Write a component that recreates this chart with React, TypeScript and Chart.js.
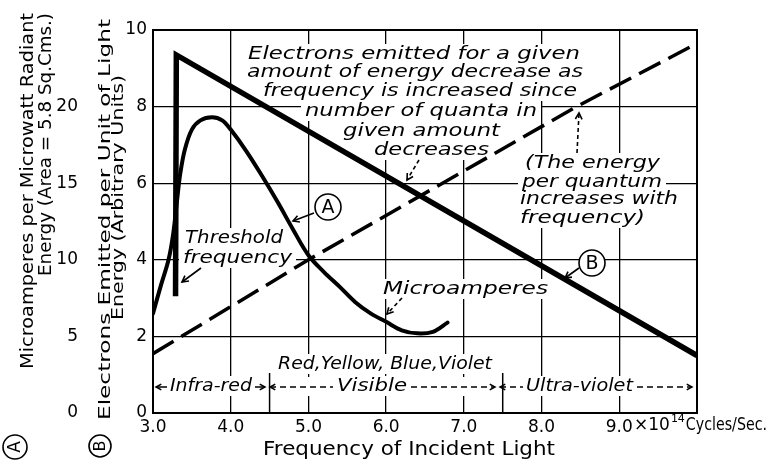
import React, { useEffect, useRef } from 'react';
import { Chart, registerables } from 'chart.js';

Chart.register(...registerables);

// ---- data ----
// Curve A: microamperes per microwatt vs frequency (10^14 c/s)
const freqA = [3.0, 3.1, 3.2, 3.26, 3.31, 3.35, 3.41, 3.5, 3.61, 3.76, 3.89, 4.0, 4.2, 4.4, 4.6, 4.8, 5.0, 5.2, 5.4, 5.6, 5.8, 6.0, 6.2, 6.4, 6.6, 6.79];
const microamperesA = [6.5, 8.3, 10.0, 11.7, 13.9, 15.6, 17.2, 18.5, 19.1, 19.3, 19.1, 18.5, 17.1, 15.5, 13.8, 12.0, 10.3, 9.2, 8.25, 7.25, 6.5, 5.95, 5.4, 5.2, 5.3, 5.9];
// Curve B: electrons emitted per unit of light energy
const freqB = [3.29, 3.3, 10.0];
const electronsB = [3.05, 9.35, 1.5];
// Energy per quantum (dashed)
const freqQuantum = [3.0, 5.0, 8.45, 10.0];
const energyQuantum = [1.55, 4.0, 8.0, 9.65];
// tick labels
const xTickLabels = ['3.0', '4.0', '5.0', '6.0', '7.0', '8.0', '9.0', ''];
const yBTickLabels = ['0', '2', '4', '6', '8', '10'];
const yATickLabels = ['0', '5', '10', '15', '20', ''];
// spectrum band boundaries
const bandEdges = [4.5, 7.5];

const FONT = '"DejaVu Sans", sans-serif';
const ITAL = (s: number) => `italic ${s}px ${FONT}`;
const UP = (s: number) => `${s}px ${FONT}`;

type TL = { t: string; x0: number; x1: number; y: number };

const italicLines: TL[] = [
  { t: 'Electrons emitted for a given', x0: 248, x1: 580, y: 54 },
  { t: 'amount of energy decrease as', x0: 247, x1: 583, y: 72 },
  { t: 'frequency is increased since', x0: 263, x1: 577, y: 91 },
  { t: 'number of quanta in', x0: 305, x1: 537, y: 111 },
  { t: 'given amount', x0: 343, x1: 500, y: 131 },
  { t: 'decreases', x0: 374, x1: 489, y: 150 },
  { t: '(The energy', x0: 525, x1: 660, y: 163 },
  { t: 'per quantum', x0: 522, x1: 662, y: 182 },
  { t: 'increases with', x0: 520, x1: 678, y: 199 },
  { t: 'frequency)', x0: 520, x1: 645, y: 218 },
  { t: 'Threshold', x0: 185, x1: 283, y: 238 },
  { t: 'frequency', x0: 183, x1: 292, y: 258 },
  { t: 'Microamperes', x0: 383, x1: 548, y: 289 },
  { t: 'Red,Yellow, Blue,Violet', x0: 278, x1: 492, y: 364 },
  { t: 'Infra-red', x0: 170, x1: 252, y: 386 },
  { t: 'Visible', x0: 337, x1: 407, y: 386 },
  { t: 'Ultra-violet', x0: 526, x1: 633, y: 386 },
];

function fitText(ctx: CanvasRenderingContext2D, t: string, x0: number, x1: number, y: number, font: string, baseline: CanvasTextBaseline = 'middle') {
  ctx.save();
  ctx.font = font;
  const w = ctx.measureText(t).width;
  ctx.translate(x0, y);
  ctx.scale((x1 - x0) / w, 1);
  ctx.textAlign = 'left';
  ctx.textBaseline = baseline;
  ctx.fillStyle = '#000';
  ctx.fillText(t, 0, 0);
  ctx.restore();
}

function rotText(ctx: CanvasRenderingContext2D, t: string, xBase: number, yStart: number, yEnd: number, font: string) {
  ctx.save();
  ctx.font = font;
  const w = ctx.measureText(t).width;
  ctx.translate(xBase, yStart);
  ctx.rotate(-Math.PI / 2);
  ctx.scale((yStart - yEnd) / w, 1);
  ctx.textAlign = 'left';
  ctx.textBaseline = 'alphabetic';
  ctx.fillStyle = '#000';
  ctx.fillText(t, 0, 0);
  ctx.restore();
}

function arrowHead(ctx: CanvasRenderingContext2D, x1: number, y1: number, x2: number, y2: number, size = 7) {
  const a = Math.atan2(y2 - y1, x2 - x1);
  ctx.save();
  ctx.setLineDash([]);
  ctx.beginPath();
  ctx.moveTo(x2 - size * Math.cos(a - 0.5), y2 - size * Math.sin(a - 0.5));
  ctx.lineTo(x2, y2);
  ctx.lineTo(x2 - size * Math.cos(a + 0.5), y2 - size * Math.sin(a + 0.5));
  ctx.stroke();
  ctx.restore();
}

function arrow(ctx: CanvasRenderingContext2D, x1: number, y1: number, x2: number, y2: number, dash: number[] = []) {
  ctx.save();
  ctx.strokeStyle = '#000';
  ctx.lineWidth = 1.6;
  ctx.setLineDash(dash);
  ctx.beginPath();
  ctx.moveTo(x1, y1);
  ctx.lineTo(x2, y2);
  ctx.stroke();
  arrowHead(ctx, x1, y1, x2, y2);
  ctx.restore();
}

function circled(ctx: CanvasRenderingContext2D, letter: string, cx: number, cy: number, r: number, rotate: boolean) {
  ctx.save();
  ctx.fillStyle = '#fff';
  ctx.strokeStyle = '#000';
  ctx.lineWidth = 1.6;
  ctx.beginPath();
  ctx.arc(cx, cy, r, 0, Math.PI * 2);
  ctx.fill();
  ctx.stroke();
  ctx.translate(cx, cy);
  if (rotate) ctx.rotate(-Math.PI / 2);
  ctx.fillStyle = '#000';
  ctx.font = UP(Math.round(r * 1.45));
  ctx.textAlign = 'center';
  ctx.textBaseline = 'middle';
  ctx.fillText(letter, 0, 1);
  ctx.restore();
}

const decorPlugin = {
  id: 'decor',
  beforeDatasetsDraw(chart: any) {
    const ctx: CanvasRenderingContext2D = chart.ctx;
    const xs = chart.scales.x;
    const ca = chart.chartArea;
    ctx.save();
    ctx.fillStyle = '#fff';
    for (const l of italicLines) ctx.fillRect(l.x0 - 4, l.y - 10, l.x1 - l.x0 + 8, 20);
    // band knockout
    ctx.fillRect(ca.left + 2, 377, ca.right - ca.left - 4, 19);
    ctx.strokeStyle = '#000';
    ctx.lineWidth = 1.5;
    for (const e of bandEdges) {
      const px = xs.getPixelForValue(e);
      ctx.beginPath();
      ctx.moveTo(px, 373);
      ctx.lineTo(px, ca.bottom);
      ctx.stroke();
    }
    ctx.restore();
  },
  afterDatasetsDraw(chart: any) {
    const ctx: CanvasRenderingContext2D = chart.ctx;
    const ca = chart.chartArea;
    // frame
    ctx.save();
    ctx.strokeStyle = '#000';
    ctx.lineWidth = 2;
    ctx.strokeRect(ca.left, ca.top, ca.right - ca.left, ca.bottom - ca.top);
    ctx.restore();

    for (const l of italicLines) fitText(ctx, l.t, l.x0, l.x1, l.y, ITAL(18));

    // band arrows
    ctx.save();
    ctx.strokeStyle = '#000';
    ctx.lineWidth = 1.5;
    const seg = (a: number, b: number, dash: number[]) => {
      ctx.setLineDash(dash);
      ctx.beginPath();
      ctx.moveTo(a, 387);
      ctx.lineTo(b, 387);
      ctx.stroke();
    };
    seg(156, 167, []); arrowHead(ctx, 166, 387, 156, 387, 6);
    seg(255, 265, []); arrowHead(ctx, 255, 387, 265, 387, 6);
    seg(270, 333, [6, 4]); arrowHead(ctx, 280, 387, 270, 387, 6);
    seg(411, 495, [6, 4]); arrowHead(ctx, 485, 387, 495, 387, 6);
    seg(500, 523, [6, 4]); arrowHead(ctx, 510, 387, 500, 387, 6);
    seg(637, 692, [6, 4]); arrowHead(ctx, 682, 387, 692, 387, 6);
    ctx.restore();

    // pointer arrows
    arrow(ctx, 419, 160, 407, 180, [4, 3]);
    arrow(ctx, 577, 153, 579, 113, [4, 3]);
    arrow(ctx, 201, 268, 182, 282);
    arrow(ctx, 402, 298, 387, 314, [4, 3]);
    arrow(ctx, 314, 213, 293, 221);
    arrow(ctx, 579, 268, 565, 278);

    circled(ctx, 'A', 328, 207, 13, false);
    circled(ctx, 'B', 592, 263, 13, false);

    // axis titles
    fitText(ctx, 'Frequency of Incident Light', 263, 555, 450, UP(19));
    ctx.save();
    ctx.font = UP(17);
    const w1 = ctx.measureText('×10').width;
    ctx.restore();
    const sx = 634;
    fitText(ctx, '×10', sx, sx + w1, 426, UP(17));
    ctx.save();
    ctx.font = UP(11);
    const w2 = ctx.measureText('14').width;
    ctx.restore();
    fitText(ctx, '14', sx + 1 + w1, sx + 1 + w1 + w2, 419, UP(11));
    fitText(ctx, 'Cycles/Sec.', sx + 2 + w1 + w2, 767, 426, UP(17));

    rotText(ctx, 'Microamperes per Microwatt Radiant', 33, 369, 13, UP(18));
    rotText(ctx, 'Energy (Area = 5.8 Sq.Cms.)', 51, 276, 13, UP(18));
    rotText(ctx, 'Electrons Emitted per Unit of Light', 110, 420, 19, UP(16));
    rotText(ctx, 'Energy (Arbitrary Units)', 123, 320, 75, UP(16));
    circled(ctx, 'A', 15, 447, 12, true);
    circled(ctx, 'B', 100, 446, 11, true);
  },
};

export default function App() {
  const ref = useRef<HTMLCanvasElement>(null);
  useEffect(() => {
    document.body.style.margin = '0';
    const canvas = ref.current!;
    const toPts = (xs: number[], ys: number[]) => xs.map((x, i) => ({ x, y: ys[i] }));
    const chart = new Chart(canvas, {
      type: 'scatter',
      data: {
        datasets: [
          {
            label: 'A',
            data: toPts(freqA, microamperesA),
            yAxisID: 'yA',
            showLine: true,
            borderColor: '#000',
            borderWidth: 4,
            pointRadius: 0,
            tension: 0.35,
            borderCapStyle: 'round',
          },
          {
            label: 'B',
            data: toPts(freqB, electronsB),
            yAxisID: 'yB',
            showLine: true,
            borderColor: '#000',
            borderWidth: 5.5,
            pointRadius: 0,
            borderJoinStyle: 'miter',
          },
          {
            label: 'Energy per quantum',
            data: toPts(freqQuantum, energyQuantum),
            yAxisID: 'yB',
            showLine: true,
            borderColor: '#000',
            borderWidth: 3.5,
            borderDash: [24, 9],
            pointRadius: 0,
          },
        ],
      } as any,
      options: {
        animation: false,
        responsive: false,
        devicePixelRatio: 1,
        layout: { padding: { top: 30, right: 74, left: 0, bottom: 0 } },
        plugins: { legend: { display: false }, tooltip: { enabled: false } },
        scales: {
          x: {
            type: 'linear',
            min: 3,
            max: 10,
            position: 'bottom',
            ticks: {
              stepSize: 1,
              color: '#000',
              font: { family: FONT, size: 17 },
              padding: 4,
              maxRotation: 0,
              callback: (v: any) => xTickLabels[Math.round(Number(v)) - 3] ?? '',
            },
            grid: { color: '#000', lineWidth: 1.3, drawTicks: false },
            border: { display: true, color: '#000', width: 2 },
            afterFit: (s: any) => { s.height = 51; },
          },
          yB: {
            type: 'linear',
            position: 'left',
            min: 0,
            max: 10,
            weight: 0,
            ticks: {
              stepSize: 2,
              color: '#000',
              font: { family: FONT, size: 17 },
              padding: 6,
              callback: (v: any) => yBTickLabels[Math.round(Number(v) / 2)] ?? '',
            },
            grid: { color: '#000', lineWidth: 1.3, drawTicks: false },
            border: { display: true, color: '#000', width: 2 },
            afterFit: (s: any) => { s.width = 69; },
          },
          yA: {
            type: 'linear',
            position: 'left',
            min: 0,
            max: 25,
            weight: 1,
            ticks: {
              stepSize: 5,
              color: '#000',
              font: { family: FONT, size: 17 },
              padding: 6,
              callback: (v: any) => yATickLabels[Math.round(Number(v) / 5)] ?? '',
            },
            grid: { display: false, drawTicks: false },
            border: { display: false },
            afterFit: (s: any) => { s.width = 84; },
          },
        },
      } as any,
      plugins: [decorPlugin],
    });
    return () => chart.destroy();
  }, []);
  return (
    <div style={{ width: 771, height: 464, background: '#fff' }}>
      <canvas ref={ref} width={771} height={464} style={{ width: 771, height: 464, display: 'block' }} />
    </div>
  );
}
